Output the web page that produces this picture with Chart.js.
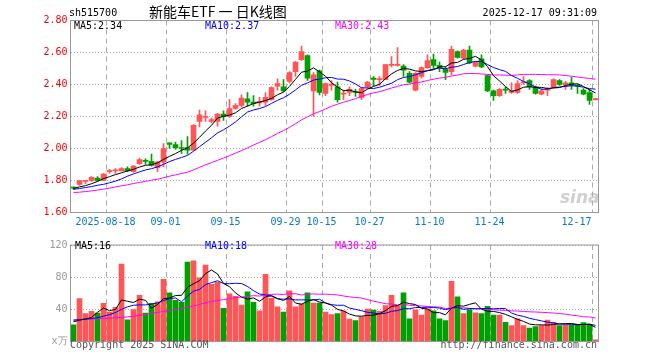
<!DOCTYPE html>
<html>
<head>
<meta charset="utf-8">
<script src="https://cdn.jsdelivr.net/npm/chart.js@4.4.1/dist/chart.umd.min.js"></script>
<style>
body { margin: 0; background: #fff; }
#wrap { position: relative; width: 660px; height: 360px; overflow: hidden; }
canvas { position: absolute; left: 0; }
.t { position: absolute; font: 10px 'DejaVu Sans Mono', monospace; line-height: 10px; white-space: pre; }
</style>
</head>
<body>
<div id="wrap">
  <canvas id="kline" width="660" height="236" style="top:0"></canvas>
  <canvas id="vol" width="660" height="124" style="top:236px"></canvas>

  <div class="t" style="left:69px;top:8px">sh515700</div>
  <div class="t" style="left:149px;top:4px;font:14px 'Noto Sans CJK SC',sans-serif;line-height:14px">新能车ETF 一 日K线图</div>
  <div class="t" style="right:63px;top:8px">2025-12-17 09:31:09</div>

  <div class="t" style="left:74px;top:21px;color:#000">MA5:2.34</div>
  <div class="t" style="left:205px;top:21px;color:#0000ff">MA10:2.37</div>
  <div class="t" style="left:335px;top:21px;color:#ff00ff">MA30:2.43</div>

  <div class="t" style="left:560px;top:187px;font:italic bold 17px 'DejaVu Sans',sans-serif;color:rgba(170,170,170,0.55)">sina</div>

  <div class="t" style="left:75px;top:241px;color:#000">MA5:16</div>
  <div class="t" style="left:205px;top:241px;color:#0000ff">MA10:18</div>
  <div class="t" style="left:335px;top:241px;color:#ff00ff">MA30:28</div>

  <div class="t" style="left:70px;top:340px;color:#555">Copyright 2025 SINA.COM</div>
  <div class="t" style="right:63px;top:340px;color:#555">http://finance.sina.com.cn</div>
</div>

<script>
const dates = [
  '2025-08-08','2025-08-11','2025-08-12','2025-08-13','2025-08-14','2025-08-15','2025-08-18','2025-08-19',
  '2025-08-20','2025-08-21','2025-08-22','2025-08-25','2025-08-26','2025-08-27','2025-08-28','2025-08-29',
  '2025-09-01','2025-09-02','2025-09-03','2025-09-04','2025-09-05','2025-09-08','2025-09-09','2025-09-10',
  '2025-09-11','2025-09-12','2025-09-15','2025-09-16','2025-09-17','2025-09-18','2025-09-19','2025-09-22',
  '2025-09-23','2025-09-24','2025-09-25','2025-09-26','2025-09-29','2025-09-30','2025-10-09','2025-10-10',
  '2025-10-13','2025-10-14','2025-10-15','2025-10-16','2025-10-17','2025-10-20','2025-10-21','2025-10-22',
  '2025-10-23','2025-10-24','2025-10-27','2025-10-28','2025-10-29','2025-10-30','2025-10-31','2025-11-03',
  '2025-11-04','2025-11-05','2025-11-06','2025-11-07','2025-11-10','2025-11-11','2025-11-12','2025-11-13',
  '2025-11-14','2025-11-17','2025-11-18','2025-11-19','2025-11-20','2025-11-21','2025-11-24','2025-11-25',
  '2025-11-26','2025-11-27','2025-11-28','2025-12-01','2025-12-02','2025-12-03','2025-12-04','2025-12-05',
  '2025-12-08','2025-12-09','2025-12-10','2025-12-11','2025-12-12','2025-12-15','2025-12-16','2025-12-17'
];
const tickDates = ['2025-08-18','2025-09-01','2025-09-15','2025-09-29','2025-10-15','2025-10-27','2025-11-10','2025-11-24','2025-12-17'];

const open = [
  1.757,1.775,1.795,1.800,1.815,1.800,1.855,1.860,1.860,1.875,1.855,1.905,1.925,1.920,1.880,1.915,
  2.035,2.025,2.005,2.005,1.990,2.170,2.195,2.170,2.170,2.215,2.200,2.250,2.270,2.310,2.290,2.285,
  2.290,2.305,2.390,2.385,2.420,2.480,2.555,2.580,2.360,2.485,2.345,2.395,2.385,2.340,2.350,2.355,
  2.320,2.385,2.440,2.430,2.430,2.520,2.520,2.515,2.470,2.365,2.450,2.505,2.555,2.520,2.495,2.480,
  2.605,2.565,2.615,2.515,2.560,2.455,2.360,2.330,2.370,2.350,2.350,2.410,2.425,2.385,2.340,2.365,
  2.385,2.425,2.400,2.410,2.395,2.365,2.350,2.305
];
const high = [
  1.760,1.800,1.800,1.825,1.825,1.845,1.870,1.875,1.880,1.885,1.895,1.940,1.935,1.965,1.920,2.030,
  2.035,2.040,2.050,2.075,2.150,2.240,2.235,2.190,2.220,2.235,2.305,2.280,2.335,2.350,2.330,2.320,
  2.350,2.385,2.435,2.430,2.480,2.545,2.640,2.585,2.475,2.490,2.410,2.425,2.415,2.365,2.385,2.370,
  2.380,2.420,2.450,2.450,2.525,2.575,2.630,2.525,2.480,2.475,2.510,2.585,2.590,2.540,2.510,2.640,
  2.610,2.620,2.640,2.545,2.585,2.460,2.365,2.375,2.385,2.410,2.425,2.450,2.430,2.390,2.375,2.380,
  2.435,2.430,2.420,2.445,2.400,2.375,2.370,2.312
];
const low = [
  1.745,1.770,1.780,1.795,1.795,1.800,1.845,1.845,1.860,1.855,1.850,1.900,1.900,1.890,1.855,1.885,
  2.000,1.995,1.970,1.965,1.990,2.135,2.170,2.160,2.140,2.175,2.195,2.245,2.260,2.265,2.265,2.265,
  2.270,2.300,2.365,2.355,2.410,2.450,2.550,2.425,2.200,2.335,2.330,2.365,2.290,2.305,2.330,2.325,
  2.305,2.380,2.390,2.395,2.430,2.510,2.515,2.450,2.410,2.360,2.440,2.500,2.500,2.480,2.430,2.460,
  2.565,2.560,2.530,2.510,2.505,2.355,2.300,2.325,2.345,2.345,2.345,2.400,2.370,2.340,2.335,2.330,
  2.380,2.395,2.370,2.370,2.345,2.335,2.275,2.302
];
const close = [
  1.752,1.800,1.800,1.820,1.800,1.840,1.860,1.865,1.875,1.860,1.890,1.930,1.920,1.895,1.915,2.000,
  2.025,2.005,2.000,1.990,2.145,2.210,2.200,2.180,2.215,2.200,2.250,2.270,2.315,2.290,2.280,2.295,
  2.320,2.380,2.405,2.360,2.475,2.540,2.605,2.440,2.460,2.350,2.405,2.400,2.305,2.345,2.370,2.350,
  2.375,2.415,2.432,2.435,2.525,2.525,2.525,2.490,2.415,2.470,2.505,2.550,2.520,2.505,2.475,2.620,
  2.570,2.615,2.535,2.540,2.510,2.360,2.330,2.370,2.365,2.360,2.405,2.415,2.385,2.345,2.360,2.370,
  2.430,2.400,2.410,2.395,2.390,2.340,2.300,2.310
];
const ma5 = [
  1.750,1.760,1.768,1.780,1.794,1.812,1.824,1.837,1.848,1.860,1.870,1.884,1.895,1.899,1.910,1.932,
  1.951,1.968,1.989,2.004,2.033,2.070,2.109,2.145,2.190,2.201,2.209,2.223,2.250,2.265,2.281,2.290,
  2.300,2.313,2.336,2.352,2.388,2.432,2.477,2.484,2.504,2.479,2.452,2.411,2.384,2.361,2.365,2.354,
  2.349,2.371,2.388,2.401,2.436,2.466,2.488,2.500,2.496,2.485,2.481,2.486,2.492,2.510,2.511,2.534,
  2.538,2.557,2.563,2.576,2.554,2.512,2.455,2.422,2.387,2.357,2.366,2.383,2.386,2.382,2.382,2.375,
  2.378,2.381,2.394,2.401,2.405,2.387,2.367,2.347
];
const ma10 = [
  1.745,1.750,1.756,1.762,1.770,1.776,1.786,1.796,1.810,1.827,1.841,1.854,1.866,1.874,1.885,1.901,
  1.918,1.932,1.944,1.957,1.983,2.011,2.039,2.067,2.097,2.117,2.140,2.166,2.198,2.228,2.241,2.250,
  2.262,2.282,2.301,2.317,2.339,2.366,2.395,2.410,2.428,2.434,2.442,2.444,2.434,2.433,2.422,2.403,
  2.380,2.378,2.375,2.383,2.395,2.408,2.430,2.444,2.449,2.461,2.474,2.487,2.496,2.503,2.498,2.508,
  2.512,2.525,2.537,2.544,2.544,2.525,2.506,2.493,2.482,2.456,2.439,2.419,2.404,2.385,2.370,2.371,
  2.381,2.384,2.388,2.392,2.390,2.383,2.374,2.371
];
const ma30 = [
  1.725,1.727,1.731,1.735,1.740,1.746,1.752,1.760,1.767,1.773,1.781,1.788,1.794,1.802,1.808,1.817,
  1.827,1.835,1.844,1.852,1.866,1.882,1.898,1.912,1.926,1.940,1.955,1.971,1.987,2.004,2.022,2.038,
  2.055,2.074,2.094,2.112,2.132,2.155,2.179,2.198,2.217,2.231,2.247,2.264,2.277,2.289,2.300,2.312,
  2.324,2.338,2.348,2.355,2.366,2.378,2.388,2.398,2.403,2.410,2.416,2.425,2.433,2.440,2.445,2.453,
  2.459,2.467,2.469,2.469,2.466,2.463,2.459,2.460,2.458,2.457,2.460,2.463,2.463,2.463,2.462,2.461,
  2.461,2.460,2.456,2.452,2.447,2.442,2.438,2.433
];
const volume = [
  20.7,53.3,34.6,37.4,35.4,47.4,36.6,42.6,96.3,27.1,39.8,57.3,35.4,47.4,49.4,77.2,
  60.5,51.3,48.6,98.7,100.3,79.2,95.1,71.2,74.0,41.4,59.3,56.1,45.4,61.7,48.6,38.2,
  83.6,53.7,43.0,36.6,62.9,43.0,46.6,60.5,47.8,47.8,36.6,33.4,34.6,37.8,27.9,25.9,
  30.6,40.2,39.0,37.4,44.6,57.3,44.6,60.5,28.3,39.4,33.0,40.6,38.2,28.3,25.9,74.8,
  55.7,34.6,39.8,35.8,34.6,43.8,33.0,33.0,23.9,19.9,28.3,19.9,16.7,18.7,19.9,26.7,
  23.9,19.9,20.7,20.7,20.7,23.5,21.5,2.0
];
const vma5 = [
  24.5,26.5,28.0,30.0,36.3,41.6,38.3,39.9,51.7,50.0,48.5,52.6,51.2,41.4,45.9,53.3,
  54.0,57.2,57.4,67.3,71.9,75.6,84.4,88.9,84.0,72.2,68.2,60.4,55.2,52.8,54.2,50.0,
  55.5,57.2,53.4,51.0,56.0,47.8,46.4,49.9,52.2,49.1,47.9,45.2,40.0,38.0,34.1,31.9,
  31.4,32.5,32.7,34.6,38.4,43.7,44.6,48.9,47.1,46.0,41.2,40.4,35.9,35.9,33.2,41.6,
  44.6,43.9,46.2,48.1,40.1,37.7,37.4,36.0,33.7,30.7,27.6,25.0,21.7,20.7,20.7,20.4,
  21.2,21.8,22.2,22.4,21.2,21.1,21.4,17.7
];
const vma10 = [
  26.5,27.2,27.9,28.6,29.5,31.5,33.5,36.0,40.0,43.1,45.1,45.5,45.5,46.5,47.9,50.9,
  53.3,54.2,49.4,56.6,62.6,64.8,70.8,73.2,75.6,72.0,71.9,72.4,72.1,68.4,63.2,59.1,
  58.0,56.2,53.1,52.6,53.0,51.7,51.8,51.7,51.6,52.6,47.9,45.8,45.0,45.1,41.6,39.9,
  38.3,36.3,35.4,34.3,35.1,37.5,38.5,40.8,40.8,42.2,42.4,42.5,42.4,41.5,39.6,41.4,
  42.5,39.9,41.0,40.7,40.8,41.2,40.6,41.1,40.9,35.4,32.7,31.2,28.9,27.2,25.7,24.0,
  23.1,21.8,21.5,21.5,20.8,21.1,21.6,20.0
];
const vma30 = [
  26.7,27.1,27.5,27.9,28.3,28.7,29.1,29.5,29.9,30.6,31.4,32.6,33.8,35.0,36.2,37.4,
  38.6,39.8,41.0,42.6,44.2,46.2,48.2,49.8,50.9,52.1,53.3,54.5,55.3,56.0,57.0,56.5,
  58.1,58.6,58.9,58.5,59.4,59.4,57.8,58.9,59.1,58.8,58.9,58.4,57.9,56.6,55.5,54.7,
  54.1,52.1,50.1,48.7,47.0,46.5,45.5,46.2,45.1,44.6,44.2,43.5,43.1,42.8,40.9,41.6,
  42.0,41.9,41.2,40.9,40.5,40.0,39.5,39.0,38.6,38.1,37.9,37.3,36.9,36.7,36.3,35.9,
  35.4,34.8,34.0,32.8,32.0,30.7,30.5,29.3
];

const RED = '#ff5555';
const GREEN = '#00a000';
const candleColors = close.map((c, i) => c >= open[i] ? RED : GREEN);
const monoFont = { family: 'DejaVu Sans Mono', size: 10 };

// box round the plot area
const frame = {
  id: 'frame',
  afterDatasetsDraw(chart) {
    const { ctx, chartArea: a } = chart;
    ctx.save();
    ctx.strokeStyle = '#999';
    ctx.lineWidth = 1;
    ctx.strokeRect(a.left, a.top, a.right - a.left, a.bottom - a.top);
    ctx.restore();
  }
};

function xAxis(height, showLabels) {
  return {
    type: 'category',
    offset: true,
    grid: {
      offset: true,
      drawTicks: false,
      color: c => tickDates.includes(dates[c.index]) ? '#aaa' : 'rgba(0,0,0,0)'
    },
    border: { display: false, dash: [5, 4] },
    ticks: {
      display: showLabels,
      autoSkip: false,
      maxRotation: 0,
      minRotation: 0,
      padding: 4,
      labelOffset: -4,
      color: '#0a78d2',
      font: monoFont,
      callback: (v, i) => {
        const k = tickDates.indexOf(dates[i]);
        if (k < 0) return '';
        let s = k === 0 ? dates[i] : dates[i].slice(5);
        if (i === dates.length - 1) s += '     '; // keep last label inside the box
        return s;
      }
    },
    afterFit: s => { s.height = height; }
  };
}

function maLine(data, color, order) {
  return { type: 'line', data, borderColor: color, borderWidth: 1, pointRadius: 0, tension: 0, order };
}

const common = {
  responsive: false,
  devicePixelRatio: 1,
  animation: false,
  events: [],
  plugins: { legend: { display: false }, tooltip: { enabled: false } }
};

new Chart(document.getElementById('kline'), {
  type: 'bar',
  data: {
    labels: dates,
    datasets: [
      maLine(ma5, '#000000', 0),
      maLine(ma10, '#0000ff', 1),
      maLine(ma30, '#ff00ff', 2),
      {
        data: open.map((o, i) => [Math.min(o, close[i]), Math.max(o, close[i])]),
        backgroundColor: candleColors,
        barThickness: 5,
        minBarLength: 1,
        grouped: false,
        order: 3
      },
      {
        data: low.map((l, i) => [l, high[i]]),
        backgroundColor: candleColors,
        barThickness: 1,
        minBarLength: 1,
        grouped: false,
        order: 4
      }
    ]
  },
  options: {
    ...common,
    layout: { padding: { left: 0, right: 61.5, top: 20.5, bottom: 0 } },
    scales: {
      x: xAxis(23.5, true),
      y: {
        min: 1.6,
        max: 2.8,
        ticks: { stepSize: 0.2, padding: 3, color: '#ff0000', font: monoFont, callback: v => v.toFixed(2) },
        grid: { color: '#aaa', drawTicks: false },
        border: { display: false, dash: [1, 2] },
        afterFit: s => { s.width = 70.5; }
      }
    }
  },
  plugins: [frame]
});

new Chart(document.getElementById('vol'), {
  type: 'bar',
  data: {
    labels: dates,
    datasets: [
      maLine(vma5, '#000000', 0),
      maLine(vma10, '#0000ff', 1),
      maLine(vma30, '#ff00ff', 2),
      {
        data: volume,
        backgroundColor: candleColors,
        barThickness: 5,
        grouped: false,
        order: 3
      }
    ]
  },
  options: {
    ...common,
    layout: { padding: { left: 0, right: 61.5, top: 4.5, bottom: 0 } },
    scales: {
      x: xAxis(18.5, false),
      y: {
        min: 0,
        max: 120,
        ticks: { stepSize: 40, padding: 3, color: '#999', font: monoFont, callback: v => v === 0 ? 'x万' : v },
        grid: { color: '#aaa', drawTicks: false },
        border: { display: false, dash: [1, 2] },
        afterFit: s => { s.width = 70.5; }
      }
    }
  },
  plugins: [frame]
});
</script>
</body>
</html>
